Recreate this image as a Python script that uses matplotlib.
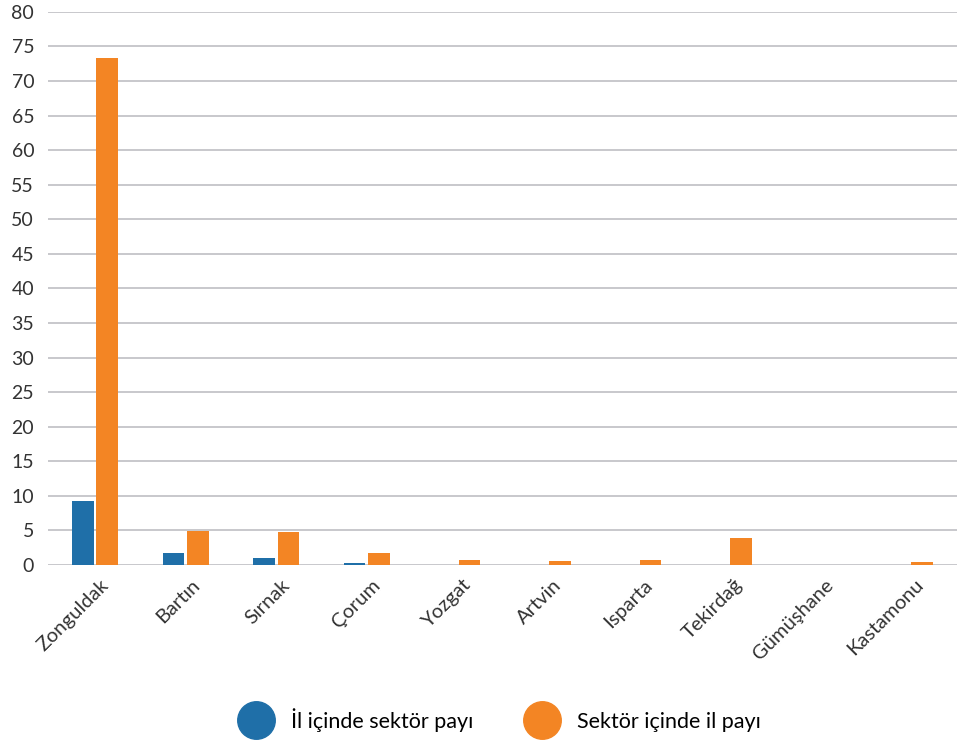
import numpy as np
import matplotlib.pyplot as plt
from matplotlib.lines import Line2D

plt.rcParams['font.family'] = ['Lato', 'DejaVu Sans']

# veriler
iller = ['Zonguldak', 'Bartın', 'Sırnak', 'Çorum', 'Yozgat', 'Artvin',
         'Isparta', 'Tekirdağ', 'Gümüşhane', 'Kastamonu']
il_icinde_sektor = [9.3, 1.75, 1.0, 0.3, 0.0, 0.0, 0.0, 0.0, 0.0, 0.0]
sektor_icinde_il = [73.4, 4.9, 4.8, 1.75, 0.7, 0.6, 0.7, 3.9, 0.0, 0.45]
yticks = list(range(0, 85, 5))

mavi = '#1f6fa8'
turuncu = '#f38524'

fig = plt.figure(figsize=(9.7, 7.42), dpi=100)
ax = fig.add_axes([0.0495, 0.2385, 0.937, 0.7455])

x = np.arange(len(iller))
w = 0.24
ax.bar(x - w / 2 - 0.015, il_icinde_sektor, w, color=mavi, zorder=3)
ax.bar(x + w / 2 + 0.015, sektor_icinde_il, w, color=turuncu, zorder=3)

ax.set_xlim(-0.52, len(iller) - 0.48)
ax.set_ylim(0, 80)
ax.set_yticks(yticks)
ax.yaxis.grid(True, color='#c4c4c8', linewidth=1.3, zorder=0)
ax.set_axisbelow(True)
for s in ax.spines.values():
    s.set_visible(False)
ax.tick_params(axis='y', length=0, labelsize=14, labelcolor='#333333', pad=10)
ax.tick_params(axis='x', length=0, labelsize=14.5, labelcolor='#333333', pad=8)
ax.set_xticks(x)
ax.set_xticklabels(iller, rotation=45, ha='right', rotation_mode='anchor')
# etiketleri biraz saga kaydir
from matplotlib.transforms import ScaledTranslation
for lbl in ax.get_xticklabels():
    lbl.set_transform(lbl.get_transform() + ScaledTranslation(0.05, 0, fig.dpi_scale_trans))

handles = [Line2D([], [], marker='o', linestyle='', markersize=27, color=mavi),
           Line2D([], [], marker='o', linestyle='', markersize=27, color=turuncu)]
fig.legend(handles, ['İl içinde sektör payı', 'Sektör içinde il payı'],
           loc='center', bbox_to_anchor=(0.513, 0.03), ncol=2, frameon=False,
           fontsize=15.5, handletextpad=0.6, columnspacing=2.2)

fig.savefig('out.png', dpi=100)
